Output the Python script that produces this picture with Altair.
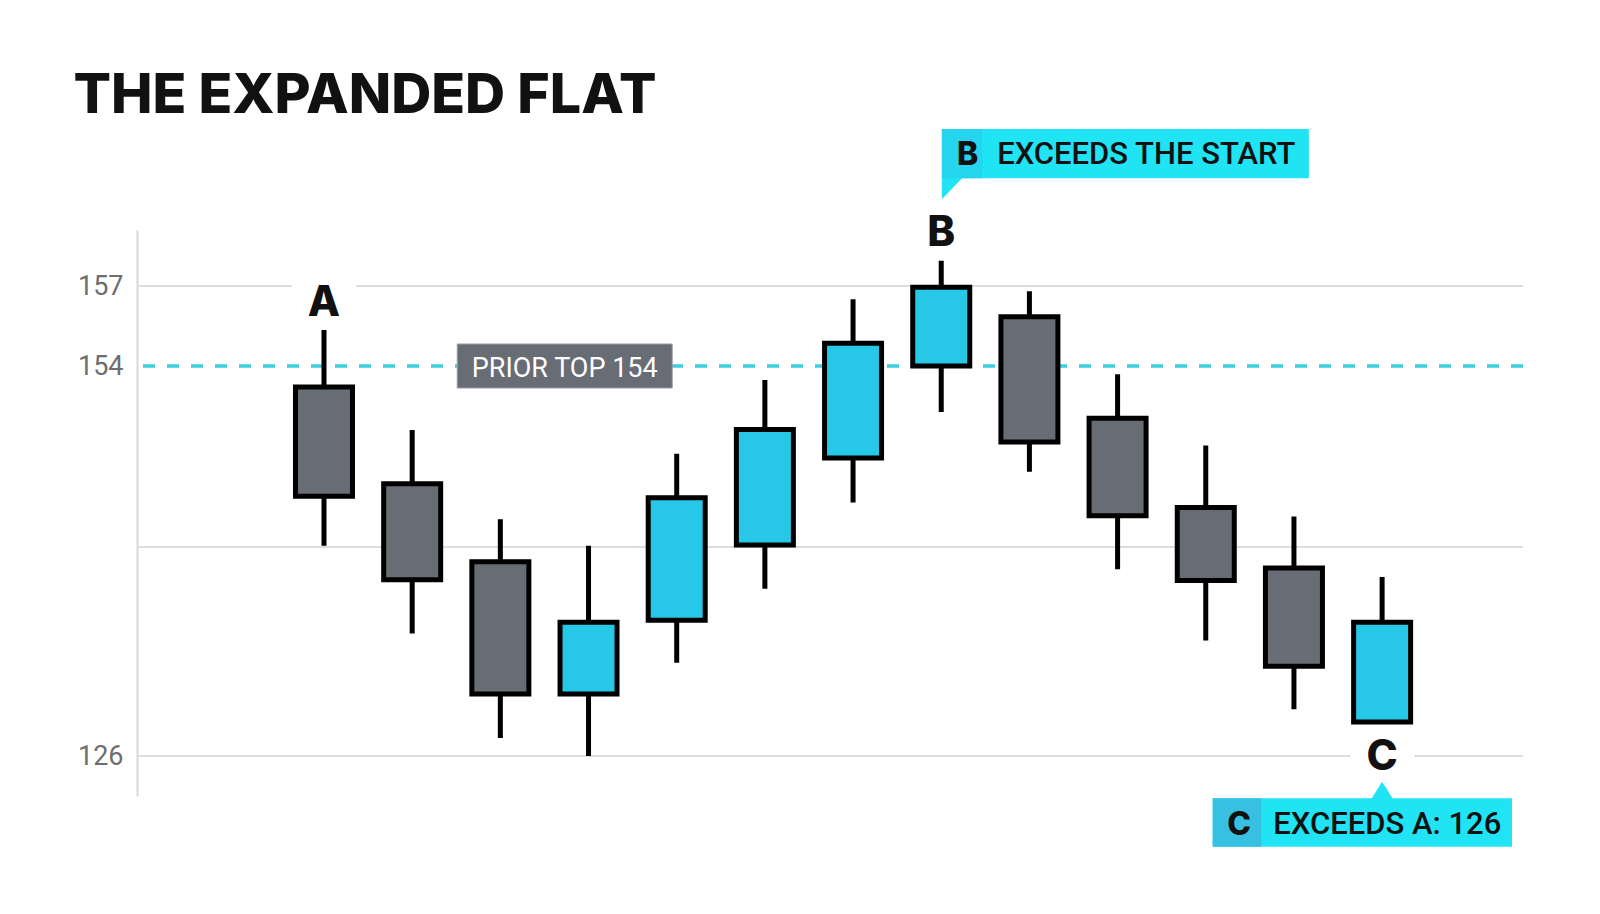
"""The expanded flat: A-B-C candles with callouts."""

import altair as alt
import pandas as pd

# candles, left to right (0 = A, 7 = B, 12 = C)
opens = [152.5, 145.55, 139.95, 130.45, 135.75, 141.15, 147.4, 154.0, 155.85, 150.25, 143.85, 139.5, 128.45]
highs = [155.35, 149.4, 143.0, 141.1, 147.7, 153.0, 156.5, 157.95, 156.8, 153.4, 148.3, 143.2, 138.85]
lows = [141.1, 134.8, 127.3, 126.0, 132.7, 138.0, 144.2, 150.7, 146.4, 139.4, 134.3, 129.35, 128.45]
closes = [144.65, 138.65, 130.45, 135.6, 144.55, 149.45, 154.85, 156.95, 148.55, 143.25, 138.6, 132.45, 135.6]
wave = ["A", "", "", "", "", "", "", "B", "", "", "", "", "C"]

y_ticks = [157, 154, 126]
grid_levels = [157, 141, 126]
prior_top = 154
prior_top_at = 2.73  # candle position of the "PRIOR TOP" tag

GREY = "#676c75"
CYAN = "#27c8e7"
CALLOUT = "#20e3f4"
DASH = "#3dcfe0"
GRID = "#dddddd"
INK = "#111111"

W, H = 1386, 566

df = pd.DataFrame(
    {"i": range(len(opens)), "open": opens, "high": highs, "low": lows, "close": closes, "wave": wave}
)
top_labels = df[df["wave"].isin(["A", "B"])]
point_b = df[df["wave"] == "B"]
point_c = df[df["wave"] == "C"]
prior = pd.DataFrame({"i": [prior_top_at], "level": [prior_top]})

# the price axis is stretched between 154 and 157 (piecewise scale)
x_scale = alt.Scale(domain=[-2.064, 13.541], nice=False, zero=False)
y_scale = alt.Scale(
    domain=[123.13, 126, 154, 157, 159.1], range=[566, 526, 136, 56, 0], nice=False, zero=False
)
y_axis = alt.Axis(
    values=y_ticks, title=None, grid=False, ticks=False,
    domainColor="#d9d9d9", domainWidth=2,
    labelFont="Roboto", labelFontSize=27, labelColor="#6e6e6e", labelPadding=14,
)
X = alt.X("i:Q", scale=x_scale, axis=None)


def Y(field):
    return alt.Y(f"{field}:Q", scale=y_scale, axis=y_axis)


def rect_path(w, h):
    r = h / w
    return f"M-1,{-r:.4f}H1V{r:.4f}H-1Z"


def box(data, field, w, h, color, dx=0, dy=0, stroke=None, stroke_width=0):
    kw = {"stroke": stroke} if stroke else {}
    return alt.Chart(data).mark_point(
        shape=rect_path(w, h), size=w * w, filled=True, fill=color, opacity=1,
        strokeWidth=stroke_width, xOffset=dx, yOffset=dy, **kw,
    ).encode(x=X, y=Y(field))


def text(data, field, label, dx, dy, align="center", font="Roboto", size=31, weight=500, color=INK):
    return alt.Chart(data).mark_text(
        text=label, dx=dx, dy=dy, align=align, baseline="middle",
        font=font, fontSize=size, fontWeight=weight, color=color,
    ).encode(x=X, y=Y(field))


grid = alt.Chart(pd.DataFrame({"level": grid_levels})).mark_rule(color=GRID, strokeWidth=2).encode(
    y=Y("level")
)

prior_line = alt.Chart(prior).mark_rule(color=DASH, strokeWidth=3.5, strokeDash=[12, 12]).encode(
    y=Y("level")
)

# white patches behind the wave letters (they break the grid lines)
patch_top = box(top_labels, "high", 64, 56, "white", dy=-30)
patch_c = box(point_c, "low", 64, 56, "white", dy=33)

prior_box = box(prior, "level", 215, 44, GREY, stroke="#9a9ea5", stroke_width=1)
prior_text = text(prior, "level", f"PRIOR TOP {prior_top}", 0, 2.6, size=27, weight=400, color="white")

wicks = alt.Chart(df).mark_rule(color="black", strokeWidth=5).encode(x=X, y=Y("low"), y2="high")
bodies = alt.Chart(df).mark_bar(size=57, stroke="black", strokeWidth=5).encode(
    x=X,
    y=Y("open"),
    y2="close",
    color=alt.condition("datum.close >= datum.open", alt.value(CYAN), alt.value(GREY)),
)

letters_top = alt.Chart(top_labels).mark_text(
    dy=-27.5, font="Inter", fontSize=42, fontWeight=800, color=INK, baseline="middle"
).encode(x=X, y=Y("high"), text="wave:N")
letter_c = alt.Chart(point_c).mark_text(
    dy=35.6, font="Inter", fontSize=42, fontWeight=800, color=INK, baseline="middle"
).encode(x=X, y=Y("low"), text="wave:N")

# callout on B
b_pointer = alt.Chart(point_b).mark_point(
    shape="M-1,-1.2L1.126,-1.2L-1,1Z", size=454, filled=True, fill=CALLOUT, opacity=1,
    strokeWidth=0, xOffset=11.25, yOffset=-72.05,
).encode(x=X, y=Y("high"))
b_box = box(point_b, "high", 367, 49.3, CALLOUT, dx=184.1, dy=-107.0)
b_tab = box(point_b, "high", 40.3, 49.3, "#25d5ee", dx=20.8, dy=-107.0)
b_key = text(point_b, "high", "B", 26.4, -105.8, font="Inter", size=32, weight=800)
b_text = text(point_b, "high", "EXCEEDS THE START", 55.9, -105.8, align="left")

# callout on C
c_pointer = alt.Chart(point_c).mark_point(
    shape="M0,-0.8L1.25,1.2L-1.25,1.2Z", size=424, filled=True, fill=CALLOUT, opacity=1,
    strokeWidth=0, yOffset=68,
).encode(x=X, y=Y("low"))
c_box = box(point_c, "low", 299.3, 48.4, CALLOUT, dx=-19.8, dy=100.6)
c_tab = box(point_c, "low", 48.3, 48.4, "#38c0e2", dx=-145.2, dy=100.6)
c_key = text(point_c, "low", "C", -143.1, 103.3, font="Inter", size=32, weight=800)
c_text = text(point_c, "low", "EXCEEDS A: 126", -108.8, 103.3, align="left")

chart = alt.layer(
    grid, prior_line, patch_top, patch_c, prior_box, prior_text, wicks, bodies,
    letters_top, letter_c,
    b_pointer, b_box, b_tab, b_key, b_text,
    c_pointer, c_box, c_tab, c_key, c_text,
).properties(
    width=W,
    height=H,
    # offset is measured from the top of the chart's content bounds
    title=alt.TitleParams(
        "THE EXPANDED FLAT", anchor="start", frame="group", font="Inter", fontSize=55.5,
        fontWeight=800, color=INK, dx=-63.6, baseline="alphabetic", offset=-39,
    ),
    autosize=alt.AutoSizeParams(type="none"),
    padding={"left": 129, "top": 222, "right": 69, "bottom": 90},
    background="white",
).configure_view(stroke=None)

chart.save("out.html", embed_options={"renderer": "svg", "actions": False})
